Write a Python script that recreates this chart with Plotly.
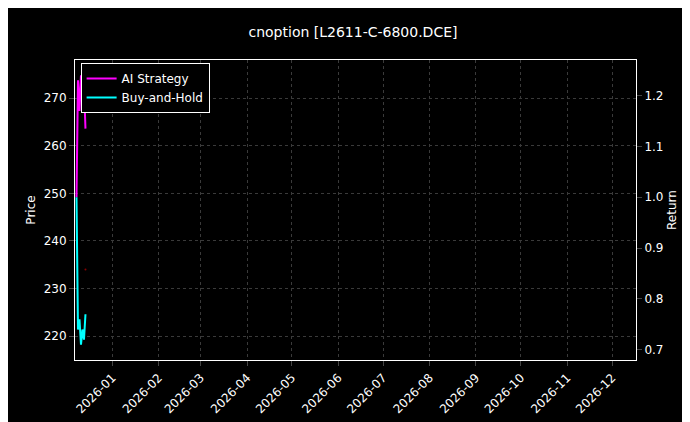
import plotly.graph_objects as go

dates = ["2025-12-08", "2025-12-09", "2025-12-10", "2025-12-11", "2025-12-12", "2025-12-13", "2025-12-14"]
ai_return = [1.00, 1.23, 1.17, 1.24, 1.20, 1.22, 1.135]
bh_return = [1.00, 0.74, 0.76, 0.71, 0.74, 0.72, 0.77]
price_dates = ["2025-12-14"]
price = [234.0]
month_ticks = ["2026-%02d-01" % m for m in range(1, 13)]
month_labels = ["2026-%02d" % m for m in range(1, 13)]

fig = go.Figure()
fig.add_trace(go.Scatter(x=price_dates, y=price, mode="markers", marker=dict(color="#8b0000", size=2),
                         showlegend=False, yaxis="y"))
fig.add_trace(go.Scatter(x=dates, y=ai_return, mode="lines", name="AI Strategy",
                         line=dict(color="#ff00ff", width=2), yaxis="y2"))
fig.add_trace(go.Scatter(x=dates, y=bh_return, mode="lines", name="Buy-and-Hold",
                         line=dict(color="#00ffff", width=2), yaxis="y2"))

grid = dict(showgrid=True, gridcolor="#3a3a3a", griddash="dot", gridwidth=0.5)
fig.update_layout(
    width=690, height=422, paper_bgcolor="black", plot_bgcolor="black",
    font=dict(family="DejaVu Sans", color="white", size=12),
    title=dict(text="cnoption [L2611-C-6800.DCE]", x=0.5, y=0.955, xanchor="center", font=dict(size=14)),
    margin=dict(l=67, r=62, t=52, b=70, autoexpand=False),
    xaxis=dict(range=["2025-12-07", "2026-12-17"], tickvals=month_ticks, ticktext=month_labels,
               tickangle=-45, ticks="outside", showline=True, linecolor="white", mirror=True,
               zeroline=False, automargin=False, **grid),
    yaxis=dict(title=dict(text="Price", standoff=5, font=dict(size=12)), range=[215, 278], dtick=10,
               ticks="outside", showline=True, linecolor="white", zeroline=False, automargin=False, **grid),
    yaxis2=dict(title=dict(text="Return", standoff=5, font=dict(size=12)), range=[0.68, 1.27], dtick=0.1,
                tickformat=".1f", overlaying="y", side="right", ticks="outside", showline=True,
                linecolor="white", showgrid=False, zeroline=False, automargin=False),
    legend=dict(x=0.01, y=0.99, xanchor="left", yanchor="top", bgcolor="black",
                bordercolor="white", borderwidth=1, font=dict(size=12)),
)
fig.write_html("out.html")
